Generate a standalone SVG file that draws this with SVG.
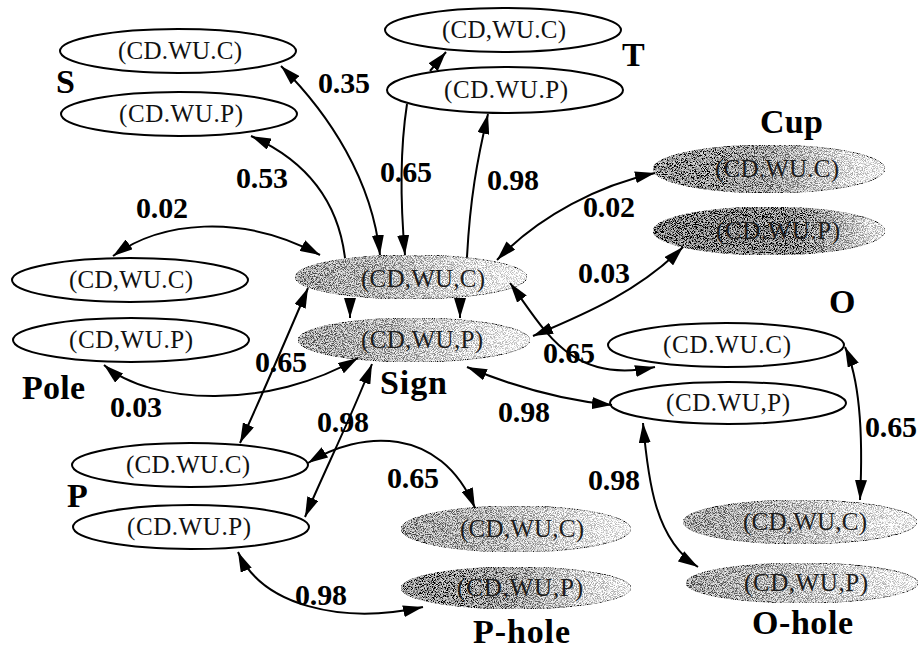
<svg xmlns="http://www.w3.org/2000/svg" width="924" height="658" viewBox="0 0 924 658">
  <style>
    .plain ellipse { fill: #ffffff; stroke: #000000; stroke-width: 2; }
    .shaded ellipse { stroke: #a0a0a0; stroke-width: 1; filter: url(#grain); }
    .nt { font-family: "Liberation Serif", "Times New Roman", serif; font-size: 25px; fill: #111111; text-anchor: middle; }
    .shaded .nt { fill: #1c1c1c; }
    .grp { font-family: "Liberation Serif", "Times New Roman", serif; font-size: 34px; font-weight: bold; fill: #000000; }
    .ew { font-family: "Liberation Serif", "Times New Roman", serif; font-size: 30px; font-weight: bold; fill: #000000; }
    .edge { fill: none; stroke: #000000; stroke-width: 2; }
    .bi { marker-start: url(#ah); marker-end: url(#ah); }
    .uni { marker-end: url(#ah); }
  </style>
  <defs>
    <marker id="ah" viewBox="0 0 20 12" refX="20" refY="6" markerWidth="20" markerHeight="12" markerUnits="userSpaceOnUse" orient="auto-start-reverse">
      <path d="M0,0 L20,6 L0,12 z" fill="#000000"/>
    </marker>
    <linearGradient id="gLight" x1="0" y1="0" x2="1" y2="0">
      <stop offset="0" stop-color="#a8a8a8"/>
      <stop offset="0.4" stop-color="#bababa"/>
      <stop offset="0.75" stop-color="#e0e0e0"/>
      <stop offset="1" stop-color="#f6f6f6"/>
    </linearGradient>
    <linearGradient id="gMid" x1="0" y1="0" x2="1" y2="0">
      <stop offset="0" stop-color="#949494"/>
      <stop offset="0.5" stop-color="#a8a8a8"/>
      <stop offset="0.8" stop-color="#d8d8d8"/>
      <stop offset="1" stop-color="#f2f2f2"/>
    </linearGradient>
    <linearGradient id="gDark" x1="0" y1="0" x2="1" y2="0">
      <stop offset="0" stop-color="#808080"/>
      <stop offset="0.6" stop-color="#8e8e8e"/>
      <stop offset="0.85" stop-color="#c2c2c2"/>
      <stop offset="1" stop-color="#ebebeb"/>
    </linearGradient>
    <!-- speckled print texture for the shaded nodes -->
    <filter id="grain" x="0" y="0" width="100%" height="100%">
      <feTurbulence type="fractalNoise" baseFrequency="1.1" numOctaves="2" seed="7" result="noise"/>
      <feColorMatrix in="noise" type="matrix" values="4 0 0 0 -1.5  4 0 0 0 -1.5  4 0 0 0 -1.5  0 0 0 0 1" result="speck"/>
      <feComposite in="SourceGraphic" in2="speck" operator="arithmetic" k1="0" k2="1" k3="0.7" k4="-0.35" result="mix"/>
      <feComposite in="mix" in2="SourceGraphic" operator="in"/>
    </filter>
  </defs>

  <!-- nodes -->
  <g id="cluster-S">
    <text class="grp" x="56" y="93">S</text>
    <g id="S-C" class="plain"><ellipse cx="178" cy="51" rx="118" ry="22"/><text class="nt" x="180" y="59" textLength="124">(CD.WU.C)</text></g>
    <g id="S-P" class="plain"><ellipse cx="179" cy="114" rx="118" ry="22"/><text class="nt" x="181" y="122" textLength="124">(CD.WU.P)</text></g>
  </g>
  <g id="cluster-T">
    <text class="grp" x="622" y="66">T</text>
    <g id="T-C" class="plain"><ellipse cx="503" cy="30" rx="118" ry="22"/><text class="nt" x="504" y="38" textLength="124">(CD,WU.C)</text></g>
    <g id="T-P" class="plain"><ellipse cx="505" cy="90" rx="118" ry="23"/><text class="nt" x="506" y="98" textLength="124">(CD.WU.P)</text></g>
  </g>
  <g id="cluster-Cup">
    <text class="grp" x="760" y="133" textLength="63">Cup</text>
    <g id="Cup-C" class="shaded"><ellipse cx="769" cy="169" rx="116" ry="24" fill="url(#gMid)"/><text class="nt" x="777" y="177" textLength="124">(CD.WU.C)</text></g>
    <g id="Cup-P" class="shaded"><ellipse cx="769" cy="231" rx="116" ry="24" fill="url(#gDark)"/><text class="nt" x="778" y="239" textLength="124">(CD.WU.P)</text></g>
  </g>
  <g id="cluster-Sign">
    <text class="grp" x="380" y="394" textLength="67">Sign</text>
    <g id="Sign-C" class="shaded"><ellipse cx="411" cy="277" rx="116" ry="22" fill="url(#gLight)"/><text class="nt" x="423" y="287" textLength="124">(CD,WU,C)</text></g>
    <g id="Sign-P" class="shaded"><ellipse cx="414" cy="340" rx="116" ry="22" fill="url(#gLight)"/><text class="nt" x="422" y="348" textLength="122">(CD,WU,P)</text></g>
  </g>
  <g id="cluster-Pole">
    <text class="grp" x="22" y="399" textLength="63">Pole</text>
    <g id="Pole-C" class="plain"><ellipse cx="130" cy="280" rx="118" ry="22"/><text class="nt" x="131" y="288" textLength="124">(CD,WU.C)</text></g>
    <g id="Pole-P" class="plain"><ellipse cx="131" cy="340" rx="118" ry="22"/><text class="nt" x="131" y="348" textLength="124">(CD,WU.P)</text></g>
  </g>
  <g id="cluster-O">
    <text class="grp" x="829" y="313">O</text>
    <g id="O-C" class="plain"><ellipse cx="726" cy="345" rx="118" ry="22"/><text class="nt" x="727" y="353" textLength="128">(CD.WU.C)</text></g>
    <g id="O-P" class="plain"><ellipse cx="728" cy="403" rx="118" ry="21"/><text class="nt" x="728" y="411" textLength="124">(CD.WU,P)</text></g>
  </g>
  <g id="cluster-P">
    <text class="grp" x="67" y="507">P</text>
    <g id="P-C" class="plain"><ellipse cx="190" cy="465" rx="118" ry="22"/><text class="nt" x="188" y="473" textLength="124">(CD.WU.C)</text></g>
    <g id="P-P" class="plain"><ellipse cx="191" cy="527" rx="118" ry="22"/><text class="nt" x="189" y="535" textLength="124">(CD.WU.P)</text></g>
  </g>
  <g id="cluster-P-hole">
    <text class="grp" x="473" y="643" textLength="97">P-hole</text>
    <g id="P-hole-C" class="shaded"><ellipse cx="516" cy="529" rx="115" ry="23" fill="url(#gLight)"/><text class="nt" x="522" y="537" textLength="124">(CD,WU,C)</text></g>
    <g id="P-hole-P" class="shaded"><ellipse cx="516" cy="588" rx="115" ry="21" fill="url(#gMid)"/><text class="nt" x="520" y="596" textLength="126">(CD,WU,P)</text></g>
  </g>
  <g id="cluster-O-hole">
    <text class="grp" x="752" y="634" textLength="101">O-hole</text>
    <g id="O-hole-C" class="shaded"><ellipse cx="800" cy="522" rx="117" ry="22" fill="url(#gLight)"/><text class="nt" x="805" y="530" textLength="124">(CD,WU,C)</text></g>
    <g id="O-hole-P" class="shaded"><ellipse cx="802" cy="583" rx="116" ry="20" fill="url(#gLight)"/><text class="nt" x="806" y="591" textLength="124">(CD,WU,P)</text></g>
  </g>

  <!-- connectors and their weights -->
  <g id="connectors">
    <path class="edge bi" d="M281,66 C330,115 372,180 380,255"/>
    <path class="edge uni" d="M345,258 C338,200 305,160 251,136"/>
    <path class="edge uni" d="M430,71 L446,52"/>
    <path class="edge uni" d="M407,104 C400,150 400,200 405,255"/>
    <path class="edge uni" d="M467,257 C470,200 477,160 488,114"/>
    <path class="edge bi" d="M655,173 C600,185 540,215 497,260"/>
    <path class="edge bi" d="M683,247 C640,290 590,312 533,336"/>
    <path class="edge bi" d="M510,283 C545,330 570,385 655,367"/>
    <path class="edge bi" d="M467,367 C510,385 560,400 612,405"/>
    <path class="edge bi" d="M845,347 C860,380 863,440 860,500"/>
    <path class="edge bi" d="M643,423 C648,480 655,540 698,567"/>
    <path class="edge bi" d="M113,256 C160,222 240,212 320,255"/>
    <path class="edge bi" d="M104,365 C150,405 270,410 358,358"/>
    <path class="edge bi" d="M308,288 C290,330 260,400 240,443"/>
    <path class="edge bi" d="M372,364 C350,420 325,470 305,517"/>
    <path class="edge bi" d="M308,463 C360,430 440,425 475,508"/>
    <path class="edge bi" d="M238,552 C262,605 340,625 423,607"/>
    <path class="edge uni" d="M350,299 L350,318"/>
    <path class="edge uni" d="M460,299 L460,318"/>

    <text class="ew" x="318" y="93" textLength="52">0.35</text>
    <text class="ew" x="236" y="188" textLength="52">0.53</text>
    <text class="ew" x="380" y="182" textLength="52">0.65</text>
    <text class="ew" x="487" y="190" textLength="52">0.98</text>
    <text class="ew" x="583" y="217" textLength="52">0.02</text>
    <text class="ew" x="578" y="283" textLength="52">0.03</text>
    <text class="ew" x="136" y="218" textLength="52">0.02</text>
    <text class="ew" x="110" y="417" textLength="52">0.03</text>
    <text class="ew" x="255" y="372" textLength="52">0.65</text>
    <text class="ew" x="317" y="432" textLength="52">0.98</text>
    <text class="ew" x="543" y="363" textLength="52">0.65</text>
    <text class="ew" x="498" y="422" textLength="52">0.98</text>
    <text class="ew" x="865" y="437" textLength="52">0.65</text>
    <text class="ew" x="588" y="490" textLength="52">0.98</text>
    <text class="ew" x="387" y="488" textLength="52">0.65</text>
    <text class="ew" x="295" y="605" textLength="52">0.98</text>
  </g>
</svg>
